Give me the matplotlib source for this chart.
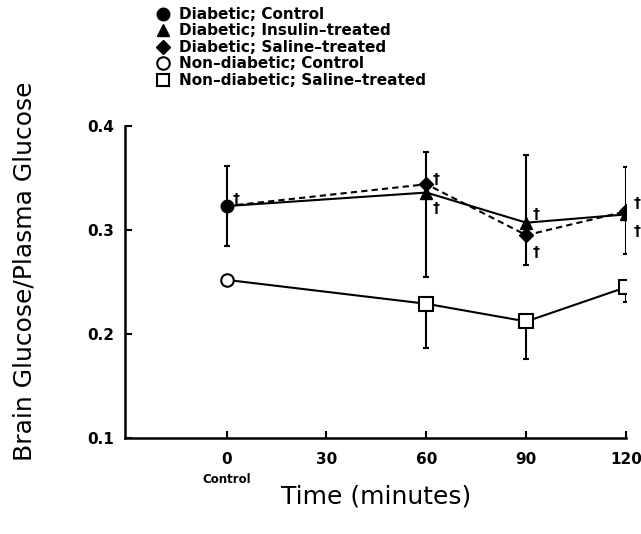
import matplotlib
matplotlib.use("Agg")
import matplotlib.pyplot as plt
from matplotlib.lines import Line2D

plt.rcParams['font.family'] = ['DejaVu Sans']

# ---- data ----
times_all = [0, 60, 90, 120]
# Diabetic series (all start from the diabetic control point at t=0)
insulin_y = [0.323, 0.336, 0.307, 0.315]
saline_d_y = [0.323, 0.344, 0.295, 0.318]
# error bars shown (diabetic): time, value, lower, upper
diab_err_t = [0, 60, 90, 120]
diab_err_y = [0.323, 0.336, 0.307, 0.315]
diab_err_lo = [0.038, 0.081, 0.041, 0.038]
diab_err_hi = [0.039, 0.039, 0.065, 0.046]

# Non-diabetic
nd_control_t = [0]
nd_control_y = [0.252]
nd_saline_t = [60, 90, 120]
nd_saline_y = [0.229, 0.212, 0.245]
nd_err_lo = [0.043, 0.036, 0.014]

# dagger annotations: (time, value, dx_points, dy_points)
daggers = [(0, 0.323, 7, 5), (60, 0.344, 7, 4), (60, 0.336, 7, -11),
           (90, 0.307, 7, 6), (90, 0.295, 7, -12), (120, 0.318, 8, 6),
           (120, 0.315, 8, -12)]

xticks = [0, 30, 60, 90, 120]
yticks = [0.1, 0.2, 0.3, 0.4]
legend_labels = ["Diabetic; Control", "Diabetic; Insulin\u2013treated",
                 "Diabetic; Saline\u2013treated", "Non\u2013diabetic; Control",
                 "Non\u2013diabetic; Saline\u2013treated"]

fig = plt.figure(figsize=(6.41, 5.34), dpi=100)
ax = fig.add_axes([0.195, 0.180, 0.782, 0.584])

lw = 1.5
# lines
ax.plot(times_all, insulin_y, color='black', lw=lw, zorder=2)
ax.plot(times_all, saline_d_y, color='black', lw=lw, ls=(0, (3, 2)), zorder=2)
ax.plot(nd_control_t + nd_saline_t, nd_control_y + nd_saline_y,
        color='black', lw=lw, zorder=2)

# error bars
ax.errorbar(diab_err_t, diab_err_y, yerr=[diab_err_lo, diab_err_hi], fmt='none',
            ecolor='black', elinewidth=1.5, capsize=2.5, capthick=1.5, zorder=1)
ax.errorbar(nd_saline_t, nd_saline_y, yerr=[nd_err_lo, [0, 0, 0]], fmt='none',
            ecolor='black', elinewidth=1.5, capsize=2.5, capthick=1.5, zorder=1)

# markers
ax.plot(times_all[1:], saline_d_y[1:], ls='none', marker='D', ms=7,
        color='black', zorder=3)
ax.plot(times_all[1:], insulin_y[1:], ls='none', marker='^', ms=8,
        color='black', zorder=3)
ax.plot([times_all[0]], [insulin_y[0]], ls='none', marker='o', ms=9,
        color='black', zorder=3)
ax.plot(nd_control_t, nd_control_y, ls='none', marker='o', ms=9,
        mfc='white', mec='black', mew=1.5, zorder=3)
ax.plot(nd_saline_t, nd_saline_y, ls='none', marker='s', ms=10,
        mfc='white', mec='black', mew=1.5, zorder=3)

for t, v, dx, dy in daggers:
    ax.annotate('\u2020', (t, v), xytext=(dx, dy), textcoords='offset points',
                fontsize=10, fontweight='bold', ha='center', va='center')

ax.set_xlim(-30.5, 120)
ax.set_ylim(0.1, 0.4)
ax.set_xticks(xticks)
ax.set_yticks(yticks)
ax.set_xticklabels([str(t) for t in xticks], fontsize=11, fontweight='bold')
ax.set_yticklabels([f"{v:.1f}" for v in yticks], fontsize=11, fontweight='bold')
ax.tick_params(direction='in', length=5, width=1.5, pad=8)
ax.tick_params(axis='x', pad=10)
for s in ['top', 'right']:
    ax.spines[s].set_visible(False)
for s in ['left', 'bottom']:
    ax.spines[s].set_linewidth(1.8)

ax.text(0, -0.135, 'Control', transform=ax.get_xaxis_transform(),
        ha='center', va='center', fontsize=8.5, fontweight='bold')

ax.set_xlabel('Time (minutes)', fontsize=18, labelpad=13)
ax.set_ylabel('Brain Glucose/Plasma Glucose', fontsize=18, labelpad=36)
ax.yaxis.label.set_y(0.535)

handles = [
    Line2D([], [], ls='none', marker='o', ms=9, color='black'),
    Line2D([], [], ls='none', marker='^', ms=9, color='black'),
    Line2D([], [], ls='none', marker='D', ms=7, color='black'),
    Line2D([], [], ls='none', marker='o', ms=9, mfc='white', mec='black', mew=1.5),
    Line2D([], [], ls='none', marker='s', ms=9, mfc='white', mec='black', mew=1.5),
]
fig.legend(handles, legend_labels, loc='upper left', bbox_to_anchor=(0.225, 1.01),
           frameon=False, handlelength=0.8, handletextpad=0.7, labelspacing=0.1,
           borderpad=0.3, prop={'weight': 'bold', 'size': 11})

fig.savefig('out.png', dpi=100)
